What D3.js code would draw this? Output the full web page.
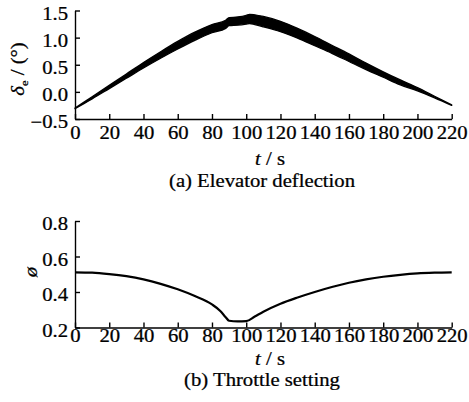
<!DOCTYPE html>
<html>
<head>
<meta charset="utf-8">
<script src="https://cdn.jsdelivr.net/npm/d3@7"></script>
<style>
  html, body { margin: 0; padding: 0; background: #fff; }
  svg { display: block; }
  text { font-family: "Liberation Serif", "Times New Roman", serif; fill: #000; stroke: #000; stroke-width: 0.25px; }
</style>
</head>
<body>
<svg id="chart" width="469" height="402"></svg>
<script>
// ---- data ----
const xTicks = [0, 20, 40, 60, 80, 100, 120, 140, 160, 180, 200, 220];
const elevTicks = [-0.5, 0.0, 0.5, 1.0, 1.5];
const throttleTicks = [0.2, 0.4, 0.6, 0.8];

const tElev = [0,10,20,30,40,50,60,70,80,88,90,95,100,102,105,110,120,130,140,150,160,170,180,190,200,210,220];
const elevUpper = [-0.30,-0.09,0.12,0.33,0.54,0.74,0.93,1.10,1.24,1.32,1.37,1.38,1.41,1.43,1.42,1.39,1.30,1.17,1.02,0.86,0.70,0.53,0.37,0.22,0.08,-0.08,-0.24];
const elevLower = [-0.31,-0.13,0.06,0.25,0.44,0.62,0.79,0.95,1.09,1.17,1.22,1.23,1.25,1.26,1.24,1.20,1.11,0.99,0.85,0.71,0.56,0.41,0.27,0.13,0.02,-0.11,-0.25];

const tThr = [0,10,20,30,40,50,60,70,80,85,88,90,95,100,105,110,120,130,140,150,160,170,180,190,200,210,220];
const throttle = [0.511,0.509,0.501,0.489,0.471,0.446,0.415,0.377,0.330,0.292,0.258,0.238,0.234,0.236,0.262,0.289,0.334,0.369,0.400,0.428,0.452,0.471,0.486,0.497,0.505,0.509,0.511];

// ---- drawing ----
const svg = d3.select("#chart");
const FS = 18, SX = 1.15;
const x0 = 75, x1 = 451.7;

function styleAxis(g) {
  g.attr("font-family", null).attr("font-size", null);
  g.select(".domain").attr("stroke", "#000").attr("stroke-width", 1.4);
  g.selectAll(".tick line").attr("stroke", "#000").attr("stroke-width", 1.4);
  g.selectAll(".tick text")
    .attr("font-size", FS)
    .attr("fill", "#000")
    .attr("transform", `scale(${SX},1)`);
}

function panel(cfg) {
  const x = d3.scaleLinear().domain([0, 220]).range([x0, x1]);
  const y = d3.scaleLinear().domain(cfg.yDomain).range([cfg.yBottom, cfg.yTop]);

  const gx = svg.append("g").attr("transform", `translate(0,${cfg.yBottom})`)
    .call(d3.axisBottom(x).tickValues(xTicks).tickSizeInner(-5).tickSizeOuter(0)
      .tickPadding(cfg.xPad).tickFormat(d3.format("d")));
  styleAxis(gx);

  const gy = svg.append("g").attr("transform", `translate(${x0},0)`)
    .call(d3.axisLeft(y).tickValues(cfg.yTicks).tickSizeInner(-5).tickSizeOuter(0)
      .tickPadding(6).tickFormat(d3.format(".1f")));
  styleAxis(gy);
  gy.selectAll(".tick text").attr("dy", "0.48em");

  // axis title
  const tt = svg.append("text")
    .attr("transform", `translate(270,${cfg.titleY}) scale(${SX},1)`)
    .attr("text-anchor", "middle").attr("font-size", FS);
  tt.append("tspan").attr("font-style", "italic").text("t");
  tt.append("tspan").text(" / s");

  // caption
  svg.append("text")
    .attr("transform", `translate(262,${cfg.capY}) scale(${SX},1)`)
    .attr("text-anchor", "middle").attr("font-size", FS)
    .text(cfg.caption);

  return { x, y };
}

// Panel (a)
const a = panel({
  yDomain: [-0.5, 1.5], yTop: 10.5, yBottom: 119, yTicks: elevTicks, xPad: 7.5,
  titleY: 165, capY: 187, caption: "(a) Elevator deflection"
});
const area = d3.area()
  .x((d, i) => a.x(tElev[i]))
  .y0((d, i) => a.y(elevLower[i]))
  .y1((d, i) => a.y(elevUpper[i]))
  .curve(d3.curveMonotoneX);
svg.append("path").datum(tElev).attr("d", area)
  .attr("fill", "#000").attr("stroke", "#000").attr("stroke-width", 1.3)
  .attr("stroke-linejoin", "round");

// y label (a)
const yl = svg.append("text")
  .attr("transform", `translate(24,69) rotate(-90) scale(${SX},1)`)
  .attr("text-anchor", "middle").attr("font-size", FS);
yl.append("tspan").attr("font-style", "italic").text("δ");
yl.append("tspan").attr("font-size", 11).attr("dy", 4).text("e");
yl.append("tspan").attr("dy", -4).text(" / (°)");

// Panel (b)
const b = panel({
  yDomain: [0.2, 0.8], yTop: 221, yBottom: 327.5, yTicks: throttleTicks, xPad: 2,
  titleY: 365, capY: 386, caption: "(b) Throttle setting"
});
const line = d3.line()
  .x((d, i) => b.x(tThr[i]))
  .y((d) => b.y(d))
  .curve(d3.curveMonotoneX);
svg.append("path").datum(throttle).attr("d", line)
  .attr("fill", "none").attr("stroke", "#000").attr("stroke-width", 2.2)
  .attr("stroke-linejoin", "round");

svg.append("text")
  .attr("transform", `translate(37,272) rotate(-90) scale(${SX},1)`)
  .attr("text-anchor", "middle").attr("font-size", FS).attr("font-style", "italic")
  .text("ø");
</script>
</body>
</html>
